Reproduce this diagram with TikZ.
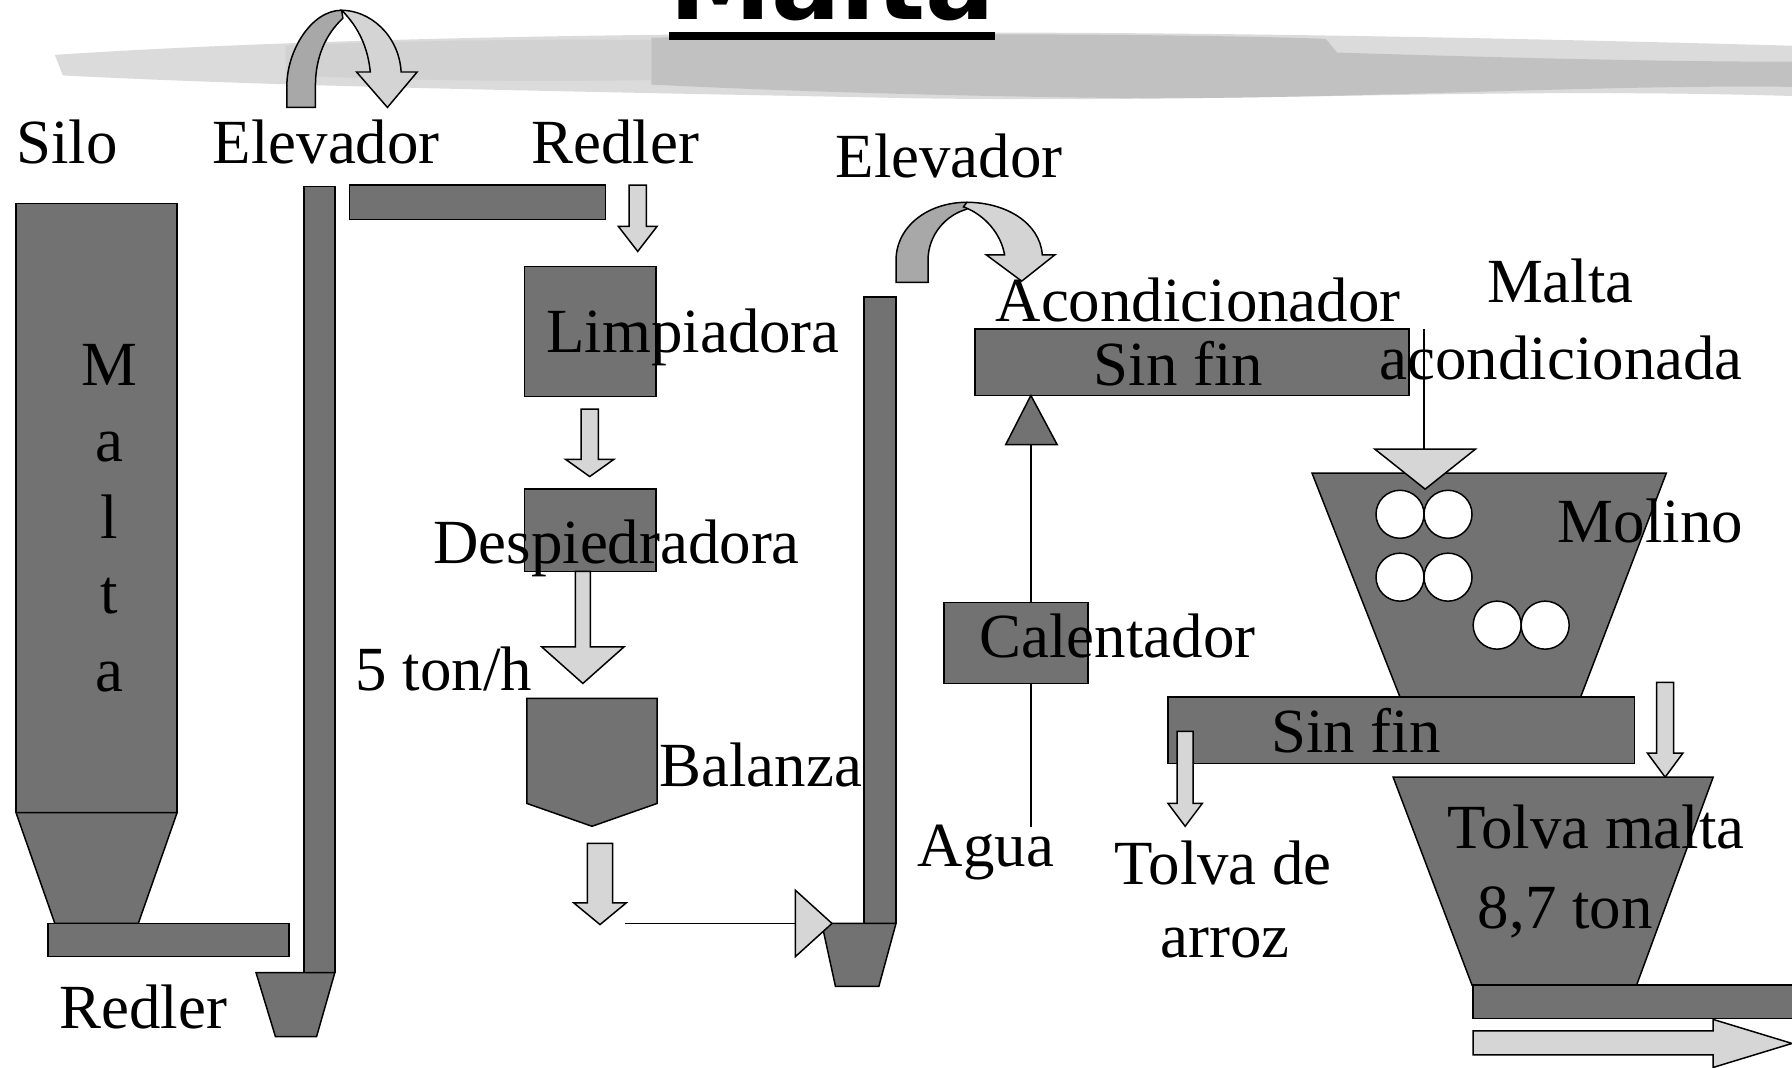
\documentclass[tikz,border=0pt]{standalone}
\usepackage{fontspec}
\setmainfont{Liberation Serif}
\newfontfamily\ttlfont{DejaVu Sans}
\definecolor{dk}{HTML}{727272}
\definecolor{lt}{HTML}{D6D6D6}
\definecolor{cvl}{HTML}{A8A8A8}
\definecolor{cvr}{HTML}{D4D4D4}
\tikzset{
  unit/.style={fill=dk, draw=black, line width=1.3},
  flow/.style={fill=lt, draw=black, line width=1.3},
  thinline/.style={draw=black, line width=1.2},
  lbl/.style={anchor=base west, inner sep=0, font=\fontsize{55}{60}\selectfont},
  vlbl/.style={anchor=base, inner sep=0, font=\fontsize{55}{60}\selectfont},
}
\newcommand\flowdn[6]{\draw[flow] ({#1-#5},#2) -- ({#1+#5},#2) -- ({#1+#5},#3) -- ({#1+#6},#3) -- (#1,#4) -- ({#1-#6},#3) -- ({#1-#5},#3) -- cycle;}
\begin{document}
\begin{tikzpicture}[x=1pt,y=-1pt]
\useasboundingbox (0,0) rectangle (1568,934);
\clip (0,0) rectangle (1568,934);
\fill[white] (0,0) rectangle (1568,934);
% brush band
\fill[gray!28] (48,48) .. controls (200,38) and (400,32) .. (620,30) .. controls (900,26) and (1200,30) .. (1568,40) -- (1568,84) .. controls (1300,76) and (1100,90) .. (800,86) .. controls (500,80) and (250,76) .. (55,66) -- cycle;
\fill[gray!55, opacity=.75] (570,33) .. controls (800,28) and (1050,30) .. (1160,34) -- (1170,46) .. controls (1300,50) and (1450,54) .. (1568,54) -- (1568,76) .. controls (1400,74) and (1200,86) .. (1000,86) .. controls (800,84) and (650,78) .. (570,74) -- cycle;
\fill[gray!40, opacity=.6] (250,40) .. controls (350,36) and (450,34) .. (570,35) -- (570,70) .. controls (450,72) and (350,70) .. (250,66) -- cycle;
% title
\node[anchor=base, inner sep=0, font=\ttlfont\bfseries\fontsize{90}{90}\selectfont] (title) at (728,17) {Malta};
\fill[black] (585,28) rectangle (871,35);
% silo
\draw[unit] (14,178) rectangle (155,711);
\draw[unit] (14,711) -- (155,711) -- (121,808) -- (48,808) -- cycle;
\draw[unit] (42,808) rectangle (253,837);
% elevator 1
\draw[unit] (266,163) rectangle (293,851);
\draw[unit] (224,851) -- (293,851) -- (277,907) -- (241,907) -- cycle;
% curved arrow 1
\draw[fill=cvl, draw=black, line width=1.3] (251,94) -- (251,75) .. controls (251,45) and (272,9) .. (299,9) -- (300,16) .. controls (285,30) and (276,50) .. (276,75) -- (276,94) -- cycle;
\draw[fill=cvr, draw=black, line width=1.3] (299,9) .. controls (323,9) and (349,30) .. (351,63) -- (365,63) -- (339,94) -- (312,63) -- (324,63) .. controls (322,42) and (314,24) .. (299,9) -- cycle;
% top redler
\draw[unit] (306,162) rectangle (530,192);
\flowdn{558}{162}{198}{220}{7.5}{17}
% limpiadora
\draw[unit] (459,233) rectangle (574,347);
\flowdn{516}{358}{402}{417}{7.5}{21}
% despiedradora
\draw[unit] (459,428) rectangle (574,500);
\flowdn{510}{500}{566}{598}{6.5}{36}
% balanza
\draw[unit] (461,611) -- (575,611) -- (575,703) -- (518,723) -- (461,703) -- cycle;
\flowdn{525}{738}{790}{809}{11}{23}
\coordinate (lineA) at (547,808);
\coordinate (lineB) at (697,808);
\draw[thinline] (lineA) -- (lineB);
% elevator 2
\draw[unit] (756,260) rectangle (784,808);
\draw[unit] (719,808) -- (784,808) -- (769,863) -- (731,863) -- cycle;
\draw[flow] (696,779) -- (728,808) -- (696,837) -- cycle;
% curved arrow 2
\draw[fill=cvl, draw=black, line width=1.3] (784,247) -- (784,228) .. controls (784,198) and (812,177) .. (846,177) -- (846,183) .. controls (828,188) and (812,205) .. (812,228) -- (812,247) -- cycle;
\draw[fill=cvr, draw=black, line width=1.3] (846,177) .. controls (880,177) and (910,195) .. (912,223) -- (923,223) -- (894,246) -- (863,223) -- (879,223) .. controls (876,205) and (862,188) .. (843,181) -- cycle;
% acondicionador
\draw[unit] (853,288) rectangle (1233,346);
\coordinate (aguaTop) at (902,389);
\coordinate (aguaBot) at (902,724);
\draw[thinline] (aguaBot) -- (aguaTop);
\draw[fill=dk, draw=black, line width=1.3] (880,389) -- (925,389) -- (902,346) -- cycle;
\draw[unit] (826,527) rectangle (952,598);
% molino
\coordinate (mA) at (1246,288);
\coordinate (mB) at (1246,393);
\draw[thinline] (mA) -- (mB);
\draw[unit] (1148,414) -- (1458,414) -- (1383,610) -- (1225,610) -- cycle;
\draw[flow] (1203,393) -- (1291,393) -- (1247,428) -- cycle;
\foreach \cx/\cy in {1225/450,1267/450,1225/505,1267/505,1310/547,1352/547}
  \draw[fill=white, draw=black, line width=1.3] (\cx,\cy) circle (21);
% lower sin fin
\draw[unit] (1022,610) rectangle (1430,668);
\flowdn{1037}{640}{703}{723}{7}{15}
\flowdn{1457}{597}{659}{680}{7.5}{15.5}
% tolva malta
\draw[unit] (1219,680) -- (1499,680) -- (1432,862) -- (1288,862) -- cycle;
\draw[unit] (1289,862) rectangle (1590,891);
\draw[flow] (1289,902) -- (1499,902) -- (1499,892) -- (1568,913) -- (1499,934) -- (1499,923) -- (1289,923) -- cycle;
% labels
\node[lbl] (silo) at (14,143) {Silo};
\node[lbl] (elev1) at (186,143) {Elevador};
\node[lbl] (redler1) at (465,143) {Redler};
\node[lbl] (elev2) at (731,155) {Elevador};
\node[lbl] (acond) at (871,281) {Acondicionador};
\node[lbl] (malta) at (1301,265) {Malta};
\node[lbl] (acondda) at (1207,332) {acondicionada};
\node[lbl] (limp) at (478,308) {Limpiadora};
\node[lbl] (sinfin1) at (957,337) {Sin fin};
\node[vlbl] (vM) at (96,337) {M};
\node[vlbl] (va1) at (96,404) {a};
\node[vlbl] (vl) at (96,471) {l};
\node[vlbl] (vt) at (96,537) {t};
\node[vlbl] (va2) at (96,605) {a};
\node[lbl] (desp) at (379,493) {Despiedradora};
\node[lbl] (molino) at (1363,475) {Molino};
\node[lbl] (calent) at (857,575) {Calentador};
\node[lbl] (ton) at (311,604) {5 ton/h};
\node[lbl] (sinfin2) at (1112,658) {Sin fin};
\node[lbl] (balanza) at (577,688) {Balanza};
\node[lbl] (agua) at (803,758) {Agua};
\node[lbl] (tolvade) at (975,774) {Tolva de};
\node[lbl] (arroz) at (1015,838) {arroz};
\node[lbl] (tolvam) at (1266,742) {Tolva malta};
\node[lbl] (cap) at (1293,812) {8,7 ton};
\node[lbl] (redler2) at (52,900) {Redler};
\end{tikzpicture}
\end{document}
